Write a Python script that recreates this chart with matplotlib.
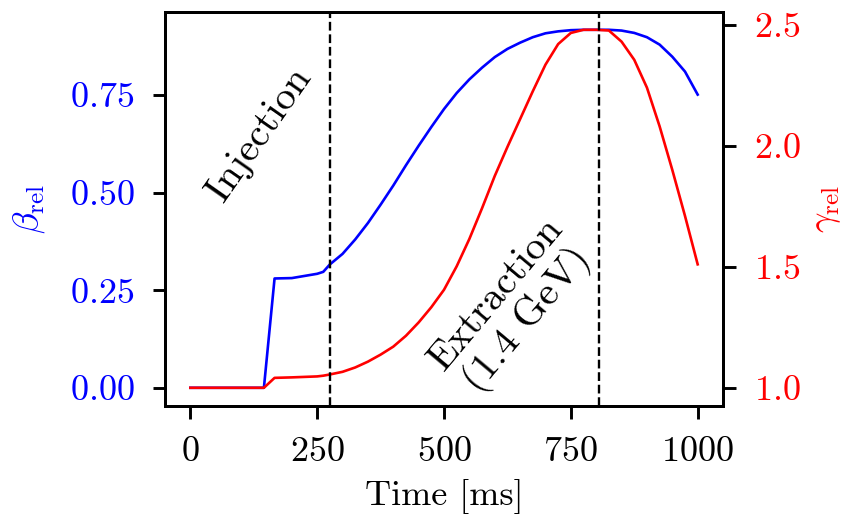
import matplotlib
matplotlib.use('Agg')
import matplotlib.pyplot as plt

plt.rcParams['font.family'] = 'serif'
plt.rcParams['font.serif'] = ['cmr10']
plt.rcParams['mathtext.fontset'] = 'cm'
plt.rcParams['axes.formatter.use_mathtext'] = True
plt.rcParams['font.size'] = 26

time_ms = [0, 145, 166, 200, 250, 262, 275, 300, 325, 350, 375, 400, 425,
           450, 475, 500, 525, 550, 575, 600, 625, 650, 675, 700, 725, 750,
           775, 800, 825, 850, 875, 900, 925, 950, 975, 1000]
beta_rel = [0.0, 0.0, 0.280, 0.281, 0.292, 0.297, 0.316, 0.343, 0.380, 0.422,
            0.469, 0.518, 0.570, 0.620, 0.668, 0.714, 0.755, 0.790, 0.820,
            0.847, 0.868, 0.884, 0.898, 0.908, 0.913, 0.916, 0.917, 0.917,
            0.917, 0.915, 0.909, 0.898, 0.879, 0.848, 0.810, 0.751]
gamma_rel = [1.0, 1.0, 1.041, 1.043, 1.047, 1.050, 1.055, 1.066, 1.084, 1.108,
             1.137, 1.170, 1.215, 1.270, 1.333, 1.405, 1.502, 1.615, 1.742,
             1.875, 1.995, 2.110, 2.225, 2.335, 2.420, 2.466, 2.479, 2.479,
             2.476, 2.430, 2.355, 2.240, 2.080, 1.900, 1.710, 1.510]
t_injection = 275
t_extraction = 805

lw_axes = 2.1
fig = plt.figure(figsize=(8.43, 5.17), dpi=100)
ax = fig.add_axes([0.1957, 0.2153, 0.662, 0.7617])
ax2 = ax.twinx()

ax.plot(time_ms, beta_rel, color='blue', lw=1.9)
ax2.plot(time_ms, gamma_rel, color='red', lw=1.9)
ax2.axvline(t_injection, color='black', ls='--', lw=1.7)
ax2.axvline(t_extraction, color='black', ls='--', lw=1.7)

ax.set_xlim(-50, 1050)
ax.set_xticks([0, 250, 500, 750, 1000])
ax.set_yticks([0, 0.25, 0.5, 0.75])
ax2.set_yticks([1.0, 1.5, 2.0, 2.5])

ax.set_xlabel('Time [ms]', labelpad=8)
ax.set_ylabel(r'$\beta_\mathrm{rel}$', color='blue', labelpad=16)
ax2.set_ylabel(r'$\gamma_\mathrm{rel}$', color='red', labelpad=8)

for a in (ax, ax2):
    for s in a.spines.values():
        s.set_linewidth(lw_axes)
    a.tick_params(length=9, width=lw_axes, pad=13)
ax.tick_params(axis='y', labelcolor='blue')
ax2.tick_params(axis='y', labelcolor='red')

ax.text(137, 0.65, 'Injection', fontsize=29, rotation=55, ha='center',
        va='center', rotation_mode='anchor')
ax.text(635, 0.205, 'Extraction\n(1.4 GeV)', fontsize=29, rotation=50,
        ha='center', va='center', multialignment='center',
        rotation_mode='anchor', linespacing=1.1)

fig.savefig('out.png', dpi=100)
